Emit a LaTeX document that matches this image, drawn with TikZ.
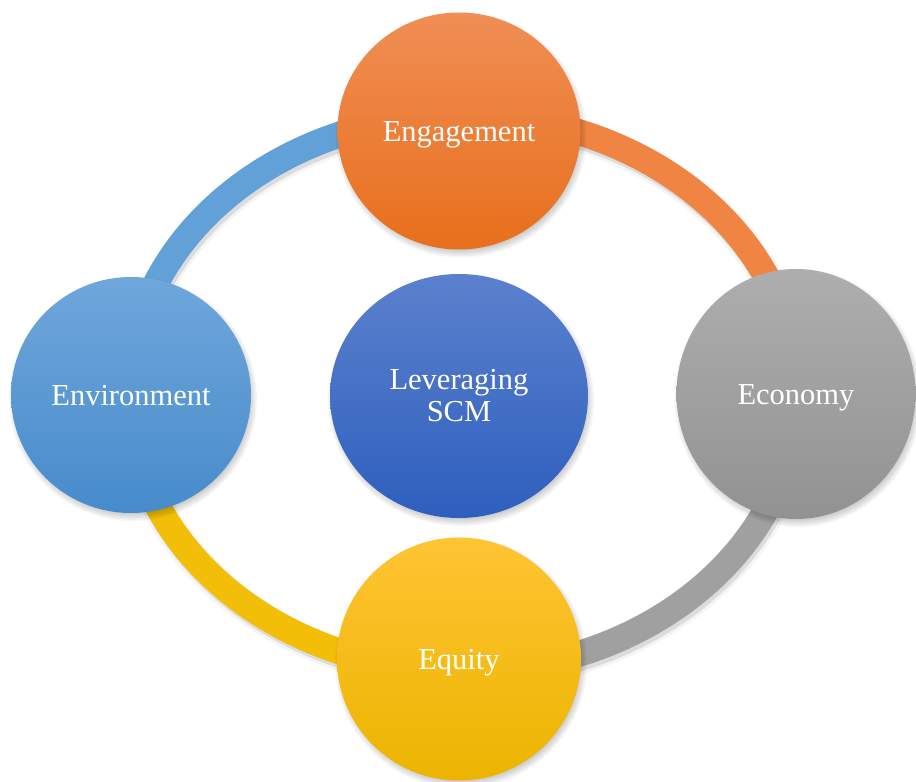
\documentclass[tikz,border=0pt]{standalone}
\usepackage{fontspec}
\setmainfont{Liberation Serif}
\usetikzlibrary{shapes.geometric}
\definecolor{engtop}{HTML}{F08E55}
\definecolor{engbot}{HTML}{E86F1C}
\definecolor{envtop}{HTML}{6FA7DB}
\definecolor{envbot}{HTML}{478BCC}
\definecolor{levtop}{HTML}{5B81CD}
\definecolor{levbot}{HTML}{2E5FBE}
\definecolor{ecotop}{HTML}{AEAEAE}
\definecolor{ecobot}{HTML}{929292}
\definecolor{equtop}{HTML}{FFC433}
\definecolor{equbot}{HTML}{ECB400}
\definecolor{ringblue}{HTML}{62A0D8}
\definecolor{ringorange}{HTML}{EF8443}
\definecolor{ringgray}{HTML}{A0A0A0}
\definecolor{ringyellow}{HTML}{F2BE08}
\begin{document}
\begin{tikzpicture}[x=1pt,y=-1pt,
  bub/.style={ellipse, inner sep=0pt, text=white, align=center,
    font=\fontsize{30.5}{32}\selectfont},
  onebub/.style={bub, text height=20pt, text depth=0pt},
  ringseg/.style={line width=26pt}
]
\useasboundingbox (0,0) rectangle (916,782);
\coordinate (rc) at (463,393);
\coordinate (rs) at (465,397);
% ring shadow
\draw[line width=32pt, black, opacity=0.04] (rs) ellipse [x radius=334, y radius=278];
\draw[line width=26pt, black, opacity=0.10] (rs) ellipse [x radius=334, y radius=278];
% ring segments
\begin{scope}
  \clip (0,0) rectangle (463,393);
  \draw[ringseg, ringblue] (rc) ellipse [x radius=334, y radius=278];
\end{scope}
\begin{scope}
  \clip (463,0) rectangle (916,393);
  \draw[ringseg, ringorange] (rc) ellipse [x radius=334, y radius=278];
\end{scope}
\begin{scope}
  \clip (463,393) rectangle (916,782);
  \draw[ringseg, ringgray] (rc) ellipse [x radius=334, y radius=278];
\end{scope}
\begin{scope}
  \clip (0,393) rectangle (463,782);
  \draw[ringseg, ringyellow] (rc) ellipse [x radius=334, y radius=278];
\end{scope}
% soft shadows of the circles
\foreach \cx/\cy/\ra/\rb in {459/131/121.5/118.5, 131/395/120/118, 796/394/119.5/125, 459/659/122/121.5, 459/396/129/122}{
  \foreach \i in {0,...,5}{
    \pgfmathsetmacro{\rxx}{\ra-3+\i*1.4}
    \pgfmathsetmacro{\ryy}{\rb-3+\i*1.4}
    \fill[black, opacity=0.035] (\cx+2,\cy+4) ellipse [x radius=\rxx, y radius=\ryy];
  }
}
% circles
\node[onebub, minimum width=243pt, minimum height=237pt, top color=engtop, bottom color=engbot] (eng) at (459,131) {Engagement};
\node[onebub, minimum width=240pt, minimum height=236pt, top color=envtop, bottom color=envbot] (env) at (131,395) {Environment};
\node[onebub, minimum width=239pt, minimum height=250pt, top color=ecotop, bottom color=ecobot] (eco) at (796,394) {Economy};
\node[onebub, minimum width=244pt, minimum height=243pt, top color=equtop, bottom color=equbot] (equ) at (459,659) {Equity};
\node[bub, minimum width=258pt, minimum height=244pt, top color=levtop, bottom color=levbot] (lev) at (459,396) {Leveraging\\SCM};
\end{tikzpicture}
\end{document}
